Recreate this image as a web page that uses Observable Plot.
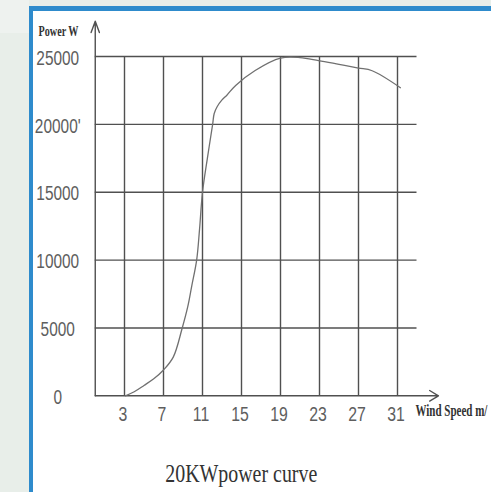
<!DOCTYPE html>
<html><head><meta charset="utf-8">
<script src="https://cdn.jsdelivr.net/npm/d3@7"></script>
<script src="https://cdn.jsdelivr.net/npm/@observablehq/plot@0.6"></script>
<style>
body{margin:0;background:#e8eee9;}
#wrap{position:relative;width:491px;height:492px;overflow:hidden;}
#band{position:absolute;left:0;top:0;width:29px;height:33px;background:#eef2ef;}
#frame{position:absolute;left:29px;top:6px;right:0;bottom:0;border-top:5px solid #2e8bcc;border-left:4px solid #2e8bcc;background:#fff;}
#chart{position:absolute;left:0;top:0;}
#title{position:absolute;left:0;top:461px;width:482px;text-align:center;line-height:1;white-space:nowrap;}
#title span{display:inline-block;font-family:"Liberation Serif",serif;font-size:26px;color:#333;transform-origin:50% 50%;}
</style>
</head><body>
<div id="wrap"><div id="band"></div><div id="frame"></div><div id="chart"></div><div id="title"><span>20KWpower curve</span></div></div>
<script>
// Data
const windSpeed = [3.1, 4.0, 5.0, 6.0, 7.0, 8.0, 8.9, 9.5, 9.9, 10.4, 10.7, 11.0, 11.5, 12.04, 12.2, 12.5, 13.0, 13.5, 14.4, 16.4, 19.0, 21.0, 22.9, 25.0, 27.0, 28.4, 31.3];
const power     = [0, 300, 760, 1250, 1900, 2850, 4940, 6600, 8100, 10000, 12300, 15000, 17500, 20000, 20800, 21300, 21800, 22150, 22870, 23970, 24880, 24920, 24700, 24420, 24150, 23950, 22700];
const xTicks  = [3, 7, 11, 15, 19, 23, 27, 31];
const xLabels = ["3", "7", "11", "15", "19", "23", "27", "31"];
const yTicks  = [0, 5000, 10000, 15000, 20000, 25000];
const yLabels = ["0", "5000", "10000", "15000", "20000'", "25000"];
const yGrid   = [5000, 10000, 15000, 20000, 25000];
const xDomain = [0, 33];
const yDomain = [0, 25000];
const xAxisEnd = 35.2;   // x axis arrow extent
const yAxisEnd = 27600;  // y axis arrow extent
const yTitle = "Power W";
const xTitle = "Wind Speed m/";

const curve = windSpeed.map((x, i) => ({x, y: power[i]}));
const gridColor = "#505050";

const chart = Plot.plot({
  width: 491, height: 440,
  marginLeft: 94.75, marginRight: 74.5, marginTop: 56, marginBottom: 44.7,
  x: {domain: xDomain, axis: null},
  y: {domain: yDomain, axis: null},
  style: {background: "transparent", overflow: "visible", fontFamily: "Liberation Sans"},
  marks: [
    Plot.ruleY(yGrid, {x1: xDomain[0], x2: xDomain[1], stroke: gridColor, strokeWidth: 1.4}),
    Plot.ruleX(xTicks, {y1: yDomain[0], y2: yDomain[1], stroke: gridColor, strokeWidth: 1.4}),
    Plot.arrow([{}], {x1: 0, y1: 0, x2: 0, y2: yAxisEnd, stroke: gridColor, strokeWidth: 1.4, headAngle: 40, headLength: 13}),
    Plot.arrow([{}], {x1: 0, y1: 0, x2: xAxisEnd, y2: 0, stroke: gridColor, strokeWidth: 1.4, headAngle: 62, headLength: 11}),
    Plot.line(curve, {x: "x", y: "y", curve: "catmull-rom", stroke: "#707070", strokeWidth: 1.3}),
    Plot.text(yTicks, {x: 0, y: d => d, text: (d, i) => yLabels[i], dx: -37.5, dy: 2, textAnchor: "middle", lineAnchor: "middle", fontSize: 19.5, fill: "#5e5e5e", fontFamily: "Liberation Sans"}),
    Plot.text(xTicks, {x: d => d, y: 0, text: (d, i) => xLabels[i], dx: -1.5, dy: 19, textAnchor: "middle", lineAnchor: "middle", fontSize: 20, fill: "#5e5e5e", fontFamily: "Liberation Sans"}),
    Plot.text([yTitle], {frameAnchor: "top-left", text: d => d, dx: -36.75, dy: -25, textAnchor: "middle", lineAnchor: "middle", fontSize: 15, fontWeight: "bold", fill: "#333", fontFamily: "Liberation Serif"}),
    Plot.text([xTitle], {frameAnchor: "bottom-right", text: d => d, dx: -1.5, dy: 15.4, textAnchor: "start", lineAnchor: "middle", fontSize: 16, fontWeight: "bold", fill: "#333", fontFamily: "Liberation Serif"})
  ]
});
document.getElementById("chart").appendChild(chart);

const tickSet = new Set([...yLabels, ...xLabels]);
d3.select(chart).selectAll("text").each(function() {
  const t = this.textContent;
  if (t === xTitle) {
    // horizontal squeeze via transform so the label's box stays inside the frame
    const w = this.getComputedTextLength();
    const tr = this.getAttribute("transform") || "";
    this.setAttribute("transform", tr + ` scale(${72 / w},1)`);
    return;
  }
  let target = null;
  if (t === yTitle) target = 40;
  else if (tickSet.has(t)) target = this.getComputedTextLength() * 0.79;
  if (target != null) {
    this.setAttribute("textLength", target);
    this.setAttribute("lengthAdjust", "spacingAndGlyphs");
  }
});
// fit the caption to the reference width
const span = document.querySelector("#title span");
const sw = span.getBoundingClientRect().width;
span.style.transform = `scaleX(${152 / sw})`;
</script>
</body></html>
